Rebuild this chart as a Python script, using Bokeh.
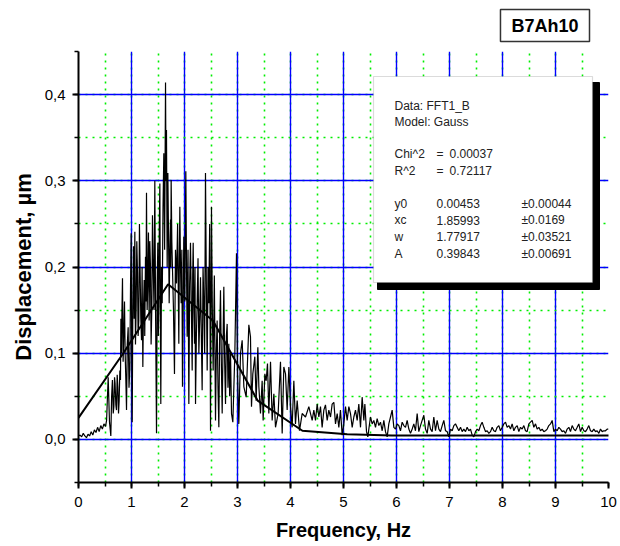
from bokeh.plotting import figure
from bokeh.models import Range1d, SingleIntervalTicker, Label, BoxAnnotation, CustomJSTickFormatter
from bokeh.embed import file_html
from bokeh.resources import INLINE

# ---------------- data ----------------
freq = [
    0.00, 0.03, 0.06, 0.09, 0.12, 0.15, 0.18, 0.21, 0.24, 0.27, 0.30, 0.33, 0.36, 0.39, 0.42, 0.45, 0.48, 0.51, 0.53,
    0.56, 0.585, 0.61, 0.625, 0.64, 0.655, 0.667, 0.68, 0.69, 0.705, 0.717, 0.73, 0.742, 0.755, 0.767, 0.78, 0.792,
    0.80, 0.81, 0.82, 0.83, 0.842, 0.855, 0.868, 0.88, 0.893, 0.906, 0.92, 0.937, 0.953, 0.969, 0.982, 0.994, 1.004,
    1.013, 1.025, 1.038, 1.05, 1.063, 1.075, 1.088, 1.10, 1.113, 1.125, 1.138, 1.15, 1.164, 1.176, 1.189, 1.20,
    1.214, 1.226, 1.239, 1.25, 1.264, 1.274, 1.283, 1.295, 1.308, 1.32, 1.333, 1.345, 1.358, 1.37, 1.384, 1.396,
    1.409, 1.425, 1.44, 1.455, 1.472, 1.485,
    1.497, 1.506, 1.516, 1.525, 1.535, 1.544, 1.553, 1.566, 1.579, 1.595, 1.61, 1.625, 1.642, 1.651, 1.66, 1.673,
    1.686, 1.698, 1.711, 1.724, 1.736, 1.742, 1.748, 1.761, 1.774, 1.792, 1.811, 1.83, 1.849, 1.87, 1.893, 1.902,
    1.912, 1.925, 1.937, 1.95, 1.962, 1.975, 1.987, 2.005, 2.025, 2.038, 2.05, 2.066, 2.082, 2.097, 2.113, 2.13,
    2.145, 2.155, 2.164, 2.177, 2.189, 2.198, 2.208, 2.224, 2.239, 2.255, 2.271, 2.287, 2.302, 2.318, 2.333, 2.35,
    2.365, 2.38, 2.396, 2.412, 2.428, 2.444, 2.459, 2.475, 2.491, 2.50, 2.509, 2.525, 2.541, 2.563, 2.585, 2.60,
    2.616, 2.632, 2.648, 2.663, 2.679, 2.695, 2.711, 2.727, 2.742, 2.758, 2.774, 2.79, 2.805, 2.82, 2.836, 2.852,
    2.868,
    2.887, 2.912, 2.95, 2.981, 3.0, 3.025, 3.057, 3.088, 3.12, 3.164, 3.214, 3.245, 3.264, 3.289, 3.327, 3.352,
    3.384, 3.403, 3.434, 3.465, 3.484, 3.516, 3.541, 3.566, 3.591, 3.623, 3.654, 3.686, 3.717, 3.767, 3.811, 3.843,
    3.874, 3.906, 3.937, 3.969, 4.0, 4.031, 4.063, 4.094, 4.126, 4.17, 4.22, 4.283, 4.346, 4.409, 4.44,
    4.472, 4.503, 4.535, 4.566, 4.597, 4.629, 4.66, 4.692, 4.723, 4.755, 4.786, 4.818, 4.849, 4.881, 4.912, 4.943,
    4.975, 5.006, 5.038, 5.069, 5.101, 5.132, 5.164, 5.195, 5.226, 5.258, 5.289, 5.321, 5.352, 5.384, 5.403, 5.434,
    5.459, 5.478, 5.509, 5.541, 5.572, 5.604, 5.635, 5.667, 5.698, 5.73, 5.761, 5.792, 5.824, 5.855, 5.887, 5.918,
    5.95, 5.981, 6.013, 6.044, 6.075, 6.107, 6.138, 6.17, 6.201, 6.233, 6.264, 6.296, 6.327, 6.358, 6.39, 6.421,
    6.453, 6.484, 6.516, 6.547, 6.579, 6.61, 6.642, 6.673, 6.704, 6.736, 6.767, 6.799, 6.83, 6.862, 6.893, 6.925,
    6.956, 6.987, 7.019, 7.05, 7.082, 7.113,
    7.176, 7.208, 7.239, 7.27, 7.302, 7.333, 7.365, 7.396, 7.428, 7.459, 7.491, 7.522, 7.553, 7.585, 7.616, 7.648,
    7.679, 7.711, 7.742, 7.774, 7.805, 7.836, 7.868, 7.899, 7.931, 7.962, 7.994, 8.025, 8.057, 8.088, 8.119, 8.151,
    8.182, 8.214, 8.245, 8.277, 8.308, 8.34, 8.371, 8.403, 8.434, 8.465, 8.497, 8.528, 8.56, 8.591, 8.623, 8.654,
    8.686, 8.717, 8.748, 8.78, 8.811, 8.843, 8.874, 8.906, 8.937, 8.969, 9.0, 9.031, 9.063, 9.094, 9.126, 9.157,
    9.189, 9.22, 9.252, 9.283, 9.314, 9.346, 9.377, 9.409, 9.44, 9.472, 9.503, 9.535, 9.566, 9.597, 9.629, 9.66,
    9.692, 9.723, 9.755, 9.786, 9.818, 9.849, 9.881, 9.912, 9.943, 9.975, 10.0,
]

displacement = [
    0.004, 0.005, 0.003, 0.007, 0.004, 0.002, 0.006, 0.004, 0.009, 0.005, 0.011, 0.008, 0.014, 0.009, 0.016, 0.012, 0.018, 0.015, 0.022,
    0.072, 0.020, 0.004, 0.050, 0.069, 0.030, 0.038, 0.072, 0.065, 0.040, 0.034, 0.075, 0.061, 0.030, 0.045, 0.080, 0.069,
    0.140, 0.100, 0.150, 0.187, 0.090, 0.123, 0.160, 0.100, 0.070, 0.034, 0.110, 0.130, 0.060, 0.084, 0.180, 0.239, 0.110,
    0.020, 0.150, 0.224, 0.140, 0.241, 0.110, 0.154, 0.230, 0.193, 0.120, 0.138, 0.250, 0.189, 0.140, 0.115, 0.200,
    0.084, 0.150, 0.185, 0.120, 0.212, 0.160, 0.286, 0.150, 0.185, 0.240, 0.138, 0.230, 0.200, 0.110, 0.154, 0.260,
    0.204, 0.150, 0.300, 0.140, 0.007, 0.180,
    0.228, 0.120, 0.158, 0.250, 0.297, 0.150, 0.041, 0.200, 0.158, 0.270, 0.332, 0.220, 0.414, 0.300, 0.359, 0.200,
    0.309, 0.240, 0.158, 0.220, 0.255, 0.200, 0.301, 0.230, 0.196, 0.150, 0.076, 0.220, 0.181, 0.250, 0.111, 0.200,
    0.270, 0.200, 0.158, 0.220, 0.061, 0.150, 0.235, 0.160, 0.311, 0.200, 0.119, 0.220, 0.041, 0.180, 0.228, 0.150,
    0.080, 0.190, 0.228, 0.150, 0.111, 0.200, 0.041, 0.120, 0.158, 0.210, 0.100, 0.140, 0.188, 0.120, 0.057, 0.200,
    0.158, 0.100, 0.309, 0.180, 0.080, 0.200, 0.158, 0.250, 0.010, 0.150, 0.270, 0.150, 0.080, 0.190, 0.022, 0.100,
    0.138, 0.060, 0.014, 0.120, 0.173, 0.090, 0.030, 0.110, 0.177, 0.090, 0.041, 0.120, 0.134, 0.060, 0.111, 0.050,
    0.100,
    0.030, 0.020, 0.100, 0.216, 0.076, 0.018, 0.100, 0.115, 0.061, 0.049, 0.133, 0.119, 0.038, 0.076, 0.096, 0.045,
    0.107, 0.061, 0.030, 0.068, 0.022, 0.076, 0.068, 0.088, 0.030, 0.090, 0.022, 0.053, 0.014, 0.030, 0.090, 0.007,
    0.084, 0.076, 0.034, 0.084, 0.038, 0.014, 0.068, 0.018, 0.045, 0.010, 0.030, 0.026, 0.038, 0.022, 0.034,
    0.022, 0.041, 0.026, 0.038, 0.014, 0.034, 0.040, 0.022, 0.034, 0.026, 0.041, 0.043, 0.018, 0.030, 0.014, 0.034,
    0.005, 0.018, 0.038, 0.022, 0.038, 0.030, 0.014, 0.026, 0.034, 0.022, 0.041, 0.014, 0.049, 0.022, 0.041, 0.009,
    0.003, 0.012, 0.026, 0.018, 0.022, 0.014, 0.024, 0.016, 0.020, 0.010, 0.022, 0.009, 0.003, 0.018, 0.026, 0.034,
    0.014, 0.012, 0.018, 0.016, 0.010, 0.020, 0.016, 0.014, 0.022, 0.012, 0.007, 0.012, 0.018, 0.010, 0.030, 0.009,
    0.016, 0.022, 0.028, 0.012, 0.007, 0.022, 0.012, 0.009, 0.026, 0.010, 0.022, 0.012, 0.009, 0.016, 0.022, 0.010,
    0.009, 0.003, 0.012, 0.010, 0.016, 0.018,
    0.010, 0.014, 0.009, 0.012, 0.009, 0.014, 0.010, 0.012, 0.005, 0.003, 0.009, 0.012, 0.010, 0.016, 0.020, 0.014,
    0.009, 0.010, 0.007, 0.009, 0.014, 0.010, 0.009, 0.014, 0.016, 0.010, 0.014, 0.018, 0.020, 0.014, 0.016, 0.012,
    0.018, 0.010, 0.014, 0.016, 0.009, 0.014, 0.012, 0.016, 0.010, 0.009, 0.018, 0.020, 0.022, 0.014, 0.018, 0.012,
    0.014, 0.010, 0.012, 0.009, 0.010, 0.012, 0.016, 0.018, 0.022, 0.009, 0.012, 0.010, 0.014, 0.012, 0.009, 0.010,
    0.007, 0.012, 0.014, 0.009, 0.016, 0.012, 0.010, 0.014, 0.018, 0.009, 0.014, 0.010, 0.009, 0.012, 0.016, 0.010,
    0.009, 0.012, 0.009, 0.010, 0.007, 0.012, 0.009, 0.010, 0.010, 0.012, 0.012,
]

# Gauss fit curve as drawn (vertices)
fit_x = [0.0, 0.845, 1.69, 2.535, 3.38, 4.225, 5.07, 5.915, 6.76, 7.605, 8.45, 9.295, 10.14]
fit_y = [0.025, 0.100, 0.180, 0.138, 0.045, 0.010, 0.006, 0.0045, 0.0045, 0.0045, 0.0045, 0.0045, 0.0045]

fit_title = ["Data: FFT1_B", "Model: Gauss"]
fit_stats = [("Chi^2", "=", "0.00037"), ("R^2", "=", "0.72117")]
fit_params = [("y0", "0.00453", "\u00b10.00044"),
              ("xc", "1.85993", "\u00b10.0169"),
              ("w", "1.77917", "\u00b10.03521"),
              ("A", "0.39843", "\u00b10.00691")]
sample_tag = "B7Ah10"

# ---------------- layout ----------------
W, H = 620, 546
FL, FR, FT, FB = 78, 608, 51, 482   # frame edges in pixels
X0, X1 = 0.0, 10.0
Y0, Y1 = -0.05, 0.45
FONT = "Liberation Sans"


def px_x(px):
    return X0 + (px - FL) * (X1 - X0) / (FR - FL)


def px_y(py):
    return Y1 - (py - FT) * (Y1 - Y0) / (FB - FT)


p = figure(width=W, height=H, output_backend="svg", toolbar_location=None,
           x_range=Range1d(X0, X1), y_range=Range1d(Y0, Y1),
           min_border_left=FL, min_border_right=W - FR,
           min_border_top=FT, min_border_bottom=H - FB)
p.outline_line_color = None
p.background_fill_color = "white"
p.border_fill_color = "white"

# sample tag in a box at the top right (as the title)
p.title.text = sample_tag
p.title.align = "right"
p.title.vertical_align = "top"
p.title.text_font = FONT
p.title.text_font_size = "18px"
p.title.text_font_style = "bold"
p.title.text_color = "black"
p.title.border_line_color = "#333333"
p.title.border_line_width = 1.5
p.title.background_fill_color = "white"
p.title.padding = (11, 6)
p.title.offset = 19
p.title.standoff = 16

p.xaxis.ticker = SingleIntervalTicker(interval=1, num_minor_ticks=2)
p.yaxis.ticker = SingleIntervalTicker(interval=0.1, num_minor_ticks=2)
p.yaxis.formatter = CustomJSTickFormatter(code="return tick.toFixed(1).replace('.', ',');")
p.xaxis.formatter = CustomJSTickFormatter(code="return tick.toFixed(0);")

for ax in (p.xaxis[0], p.yaxis[0]):
    ax.axis_line_color = "black"
    ax.axis_line_width = 2
    ax.major_tick_line_color = "black"
    ax.major_tick_line_width = 2
    ax.minor_tick_line_color = "black"
    ax.minor_tick_line_width = 1.5
    ax.major_tick_out = 6
    ax.major_tick_in = 0
    ax.minor_tick_out = 4
    ax.minor_tick_in = 0
    ax.major_label_text_font = FONT
    ax.major_label_text_font_size = "15px"
    ax.major_label_text_color = "black"
    ax.axis_label_text_font = FONT
    ax.axis_label_text_font_style = "bold"
    ax.axis_label_text_color = "black"

p.xaxis.axis_label = "Frequency, Hz"
p.yaxis.axis_label = "Displacement, \u00b5m"
p.xaxis.axis_label_text_font_size = "20px"
p.yaxis.axis_label_text_font_size = "22px"
p.xaxis.major_label_standoff = 8
p.yaxis.major_label_standoff = 7
p.xaxis.axis_label_standoff = 9
p.yaxis.axis_label_standoff = 6

for g in (p.xgrid[0], p.ygrid[0]):
    g.grid_line_color = "#0000ff"
    g.grid_line_width = 1.4
    g.minor_grid_line_color = "#00ee00"
    g.minor_grid_line_width = 1.6
    g.minor_grid_line_dash = "2 5"

# data
p.line(freq, displacement, line_color="black", line_width=1.2)
p.line(fit_x, fit_y, line_color="black", line_width=2)

# fit-result box with shadow
shadow = BoxAnnotation(left=px_x(377), right=px_x(599), top=px_y(82), bottom=px_y(289),
                       fill_color="black", fill_alpha=1.0, line_color="black", line_alpha=1.0)
box = BoxAnnotation(left=px_x(373), right=px_x(592), top=px_y(76), bottom=px_y(282),
                    fill_color="white", fill_alpha=1.0, line_color="#888888", line_width=1.2)
p.add_layout(shadow)
p.add_layout(box)

TXT = "#222222"


def add_text(txt, px, py, size="12px", style="normal", align="left"):
    p.add_layout(Label(x=px_x(px), y=px_y(py), text=txt, text_font=FONT, text_font_size=size,
                       text_font_style=style, text_color=TXT, text_align=align,
                       text_baseline="middle"))


for i, t in enumerate(fit_title):
    add_text(t, 394, 105 + 16 * i)
for i, (a, b, c) in enumerate(fit_stats):
    yy = 153 + 17 * i
    add_text(a, 394, yy)
    add_text(b, 436, yy)
    add_text(c, 449, yy)
for i, (a, b, c) in enumerate(fit_params):
    yy = 203 + 16.7 * i
    add_text(a, 394, yy)
    add_text(b, 436, yy)
    add_text(c, 521, yy)

open("out.html", "w").write(file_html(p, INLINE))
